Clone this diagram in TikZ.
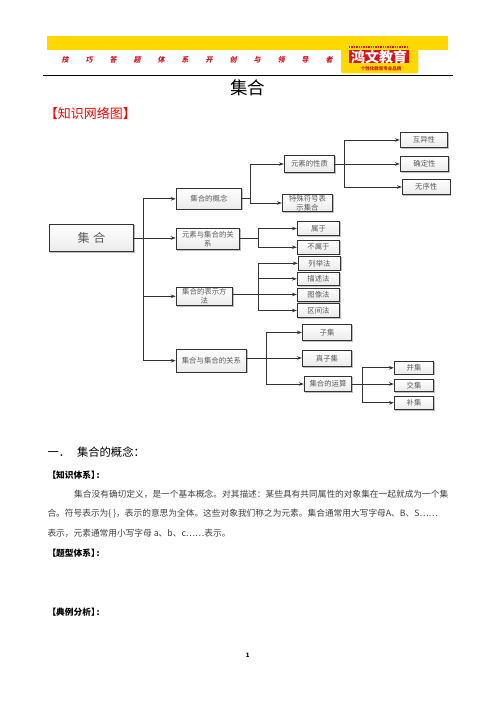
\documentclass[tikz,border=0pt]{standalone}
\usepackage{fontspec}
\setmainfont{Noto Sans CJK SC}
\newfontfamily\sloganfont[FakeSlant=0.2]{Noto Sans CJK SC}
\usepackage{tikz}
\usetikzlibrary{arrows.meta,positioning,shadows}
\definecolor{bandYellow}{HTML}{FFD800}
\definecolor{logoRed}{HTML}{D2141E}
\definecolor{titleRed}{HTML}{FF0000}
\definecolor{lineGray}{HTML}{333333}
\definecolor{textGray}{HTML}{5A5A5A}
\begin{document}
\begin{tikzpicture}[
    x=1pt, y=-1pt,
    node distance=10pt and 10pt,
    box/.style={draw=lineGray, line width=0.9pt, rectangle, top color=white, bottom color=black!8,
                drop shadow={shadow xshift=1pt, shadow yshift=-1pt, opacity=0.25, fill=black},
                align=center, inner sep=0pt, font=\fontsize{7.4}{8.6}\selectfont, text=textGray},
    leaf/.style={box, minimum width=42.4pt, minimum height=14.2pt},
    arrow/.style={-{Stealth[length=5pt,width=3.6pt]}, line width=0.8pt, draw=lineGray},
    plain/.style={line width=0.8pt, draw=lineGray},
    body/.style={anchor=west, inner sep=0pt, font=\fontsize{8.7}{10}\selectfont, text=black!75},
    tag/.style={anchor=west, inner sep=0pt, font=\fontsize{8.7}{10}\selectfont\bfseries},
    slogan/.style={inner sep=0pt, font=\fontsize{7}{8}\sloganfont\bfseries, text=logoRed}
]
    \useasboundingbox (0,0) rectangle (496,702);

    % header
    \fill[bandYellow] (47,36) rectangle (448,50);
    \fill[bandYellow, rounded corners=2pt] (341,48) rectangle (418.3,73.3);
    \fill[logoRed] (349,50) rectangle (409,63.3);
    \draw[logoRed, line width=1.2pt, dash pattern=on 1.4pt off 1pt] (349,47) -- (409,47);
    \node[inner sep=0pt, font=\fontsize{14}{15}\selectfont\bfseries, text=white] (logo) at (379,56.8) {鸿文教育};
    \node[inner sep=0pt, font=\fontsize{4.5}{5}\selectfont\bfseries, text=logoRed] (logosub) at (381,68.3) {个性化教育专业品牌};
    \foreach \ch [count=\i from 0] in {技,巧,答,题,体,系,开,创,与,领,导,者}
        \node[slogan] (slogan\i) at (65+24*\i,60) {\ch};
    \draw[line width=0.7pt] (43,75.3) -- (453,75.3);

    \node[inner sep=0pt, font=\fontsize{17.5}{20}\selectfont] (title) at (247.5,88) {集合};
    \node[anchor=west, inner sep=0pt, font=\fontsize{13}{16}\selectfont, text=titleRed] (net) at (44.7,114) {【知识网络图】};

    % level 1 and 2
    \node[box, minimum width=84.4pt, minimum height=27.4pt, font=\fontsize{12}{14}\selectfont] (root) at (91.5,238) {集\hspace{4pt}合};
    \node[box, minimum width=65.4pt, minimum height=21pt, right=41.6pt of root, yshift=39.2pt] (concept) {集合的概念};
    \node[box, minimum width=63.4pt, minimum height=21.4pt, below=18pt of concept.south west, anchor=north west] (member) {元素与集合的关\\系};
    \node[box, minimum width=56.4pt, minimum height=18.4pt, below=36.6pt of member.south west, anchor=north west] (repr) {集合的表示方\\法};
    \node[box, minimum width=70.4pt, minimum height=23.4pt, below=42.6pt of repr.south west, anchor=north west] (relation) {集合与集合的关系};

    % concept branch
    \node[box, minimum width=50.4pt, minimum height=17.4pt] (prop) at (309.5,164) {元素的性质};
    \node[box, minimum width=50.4pt, minimum height=17.4pt] (special) at (307.5,203) {特殊符号表\\示集合};
    \node[leaf, minimum width=47.4pt, minimum height=15.4pt] (distinct) at (424,140) {互异性};
    \node[leaf, minimum width=48.4pt, minimum height=15.4pt] (certain) at (424.5,164) {确定性};
    \node[leaf, minimum width=47.7pt, minimum height=15.4pt] (unorder) at (426.2,187) {无序性};

    % member branch
    \node[leaf] (belong) at (318.5,228.5) {属于};
    \node[leaf, below=3.6pt of belong] (notbelong) {不属于};

    % repr branch
    \node[leaf] (listing) at (319.5,263.3) {列举法};
    \node[leaf, minimum height=13.7pt] (descr) at (318.5,278.8) {描述法};
    \node[leaf, minimum height=13.7pt] (graphic) at (318.5,294.8) {图像法};
    \node[leaf] (interval) at (318.5,310.5) {区间法};

    % relation branch
    \node[box, minimum width=49.4pt, minimum height=16.4pt] (subset) at (327,332.5) {子集};
    \node[box, minimum width=49.4pt, minimum height=16.4pt, below=8.6pt of subset] (proper) {真子集};
    \node[box, minimum width=47.4pt, minimum height=15.4pt] (ops) at (328,384) {集合的运算};
    \node[box, minimum width=39.4pt, minimum height=13pt] (union) at (414,367.8) {并集};
    \node[box, minimum width=39.4pt, minimum height=12.7pt, below=4pt of union] (inter) {交集};
    \node[box, minimum width=39.4pt, minimum height=13.4pt, below=3.3pt of inter] (compl) {补集};

    % bus points
    \coordinate (busroot) at (143.3,238);
    \coordinate (busconcept) at (250,198.8);
    \coordinate (busprop) at (344.3,164);
    \coordinate (busmember) at (258.3,238);
    \coordinate (busrepr) at (258.3,294.5);
    \coordinate (busrel) at (266.7,358);
    \coordinate (busops) at (362.3,384);

    \draw[plain] (root.east |- busroot) -- (busroot);
    \draw[arrow] (busroot) |- (concept);
    \draw[arrow] (busroot) -- (member.west |- busroot);
    \draw[arrow] (busroot) |- (repr);
    \draw[arrow] (busroot) |- (relation);

    \draw[plain] (concept.east |- busconcept) -- (busconcept);
    \draw[arrow] (busconcept) |- (prop);
    \draw[arrow] (busconcept) |- (special);
    \draw[plain] (prop.east |- busprop) -- (busprop);
    \draw[arrow] (busprop) |- (distinct);
    \draw[arrow] (busprop) -- (certain.west |- busprop);
    \draw[arrow] (busprop) |- (unorder);

    \draw[plain] (member.east |- busmember) -- (busmember);
    \draw[arrow] (busmember) |- (belong);
    \draw[arrow] (busmember) |- (notbelong);

    \draw[plain, line width=1.5pt] (repr.east |- busrepr) -- (busrepr);
    \draw[arrow] (busrepr) |- (listing);
    \draw[arrow] (busrepr) |- (descr);
    \draw[arrow] (busrepr) -- (graphic.west |- busrepr);
    \draw[arrow] (busrepr) |- (interval);

    \draw[plain] (relation.east |- busrel) -- (busrel);
    \draw[arrow] (busrel) |- (subset);
    \draw[arrow] (busrel) -- (proper.west |- busrel);
    \draw[arrow] (busrel) |- (ops);
    \draw[plain] (ops.east |- busops) -- (busops);
    \draw[arrow] (busops) |- (union);
    \draw[arrow] (busops) -- (inter.west |- busops);
    \draw[arrow] (busops) |- (compl);

    % text below
    \node[anchor=west, inner sep=0pt, font=\fontsize{11.3}{13}\selectfont] (head) at (47.3,452.3) {一．\hspace{7pt}集合的概念：};
    \node[tag] (tagknow) at (47.3,475.3) {【知识体系】\hspace{-3pt}:};
    \node[body] (lineone) at (74,494) {集合没有确切定义，是一个基本概念。对其描述：某些具有共同属性的对象集在一起就成为一个集};
    \node[body] (linetwo) at (47.3,514) {合。符号表示为\{ \}，表示的意思为全体。这些对象我们称之为元素。集合通常用大写字母A、B、S……};
    \node[body] (linethree) at (47.3,533.3) {表示，元素通常用小写字母 a、b、c……表示。};
    \node[tag] (tagtype) at (47.3,553.3) {【题型体系】\hspace{-3pt}:};
    \node[tag] (tagcase) at (47.3,611.7) {【典例分析】\hspace{-3pt}:};
    \node[inner sep=0pt, font=\fontsize{6}{7}\selectfont\bfseries] (page) at (247.7,655.7) {1};
\end{tikzpicture}
\end{document}
